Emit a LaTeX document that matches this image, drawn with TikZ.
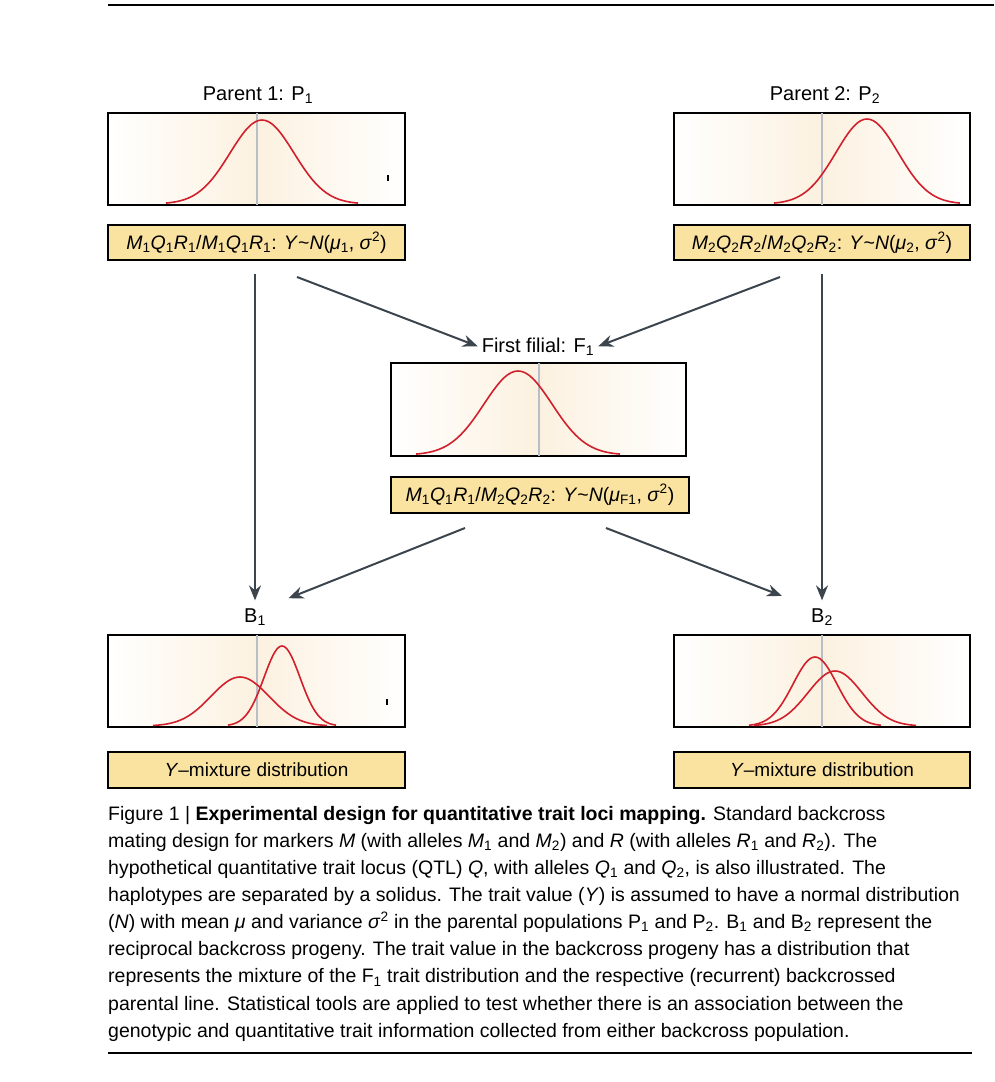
\documentclass[tikz,border=0pt]{standalone}
\usepackage{fontspec}
\setmainfont{Liberation Sans}
\usetikzlibrary{arrows.meta}

\definecolor{curvered}{RGB}{208,32,44}
\definecolor{genofill}{RGB}{250,226,160}
\definecolor{plotbeige}{RGB}{252,241,224}
\definecolor{midgray}{RGB}{182,190,200}
\definecolor{arrowgray}{RGB}{60,68,78}

\tikzset{
  plotbox/.style={draw=black, line width=2pt, left color=white, right color=white,
    middle color=plotbeige, minimum width=297pt, minimum height=92pt, inner sep=0pt},
  genobox/.style={draw=black, line width=2pt, fill=genofill, minimum width=297pt,
    minimum height=35pt, inner sep=0pt, font=\fontsize{19.5}{22}\selectfont},
  stagelabel/.style={font=\fontsize{20}{22}\selectfont, inner sep=2pt},
  centreline/.style={draw=midgray, line width=2pt, shorten <=1pt, shorten >=1pt},
  redcurve/.style={draw=curvered, line width=1.6pt, smooth, samples=61},
  crossarrow/.style={draw=arrowgray, line width=2pt, -{Stealth[length=15pt,width=12pt]}},
}

% normal curve: mean, sd, height, baseline
\newcommand{\normcurve}[4]{%
  \draw[redcurve] plot[domain={#1-3*#2}:{#1+3*#2}] (\x,{#4-#3*exp(-0.5*((\x-#1)/#2)^2)});}

\begin{document}
\begin{tikzpicture}[x=1pt, y=-1pt]
    \useasboundingbox (0,0) rectangle (994,1082);
    \draw[line width=2pt] (108,5) -- (994,5);

    % parents
    \node[stagelabel] (lp1) at (258,95) {Parent 1: P\textsubscript{1}};
    \node[plotbox] (p1) at (256.5,159) {};
    \draw[centreline] (p1.north) -- (p1.south);
    \normcurve{262}{32}{84}{204}
    \draw[line width=1.5pt] (388,175) -- (388,181);
    \node[genobox] (gp1) at (256.5,242.5) {\textit{M}\textsubscript{1}\textit{Q}\textsubscript{1}\textit{R}\textsubscript{1}/\textit{M}\textsubscript{1}\textit{Q}\textsubscript{1}\textit{R}\textsubscript{1}: \textit{Y}\textasciitilde\textit{N}(\textit{μ}\textsubscript{1}, \textit{σ}\textsuperscript{2})};

    \node[stagelabel] (lp2) at (825,95) {Parent 2: P\textsubscript{2}};
    \node[plotbox, minimum width=296pt] (p2) at (822,159) {};
    \draw[centreline] (p2.north) -- (p2.south);
    \normcurve{867}{31}{85}{204}
    \node[genobox, minimum width=296pt] (gp2) at (822,242.5) {\textit{M}\textsubscript{2}\textit{Q}\textsubscript{2}\textit{R}\textsubscript{2}/\textit{M}\textsubscript{2}\textit{Q}\textsubscript{2}\textit{R}\textsubscript{2}: \textit{Y}\textasciitilde\textit{N}(\textit{μ}\textsubscript{2}, \textit{σ}\textsuperscript{2})};

    % first filial
    \node[stagelabel] (lf1) at (538,347) {First filial: F\textsubscript{1}};
    \node[plotbox, minimum width=295pt, minimum height=93pt] (f1) at (538.5,409.5) {};
    \draw[centreline] (f1.north) -- (f1.south);
    \normcurve{518}{34}{84}{455}
    \node[genobox, minimum width=298pt, minimum height=36pt] (gf1) at (540,495) {\textit{M}\textsubscript{1}\textit{Q}\textsubscript{1}\textit{R}\textsubscript{1}/\textit{M}\textsubscript{2}\textit{Q}\textsubscript{2}\textit{R}\textsubscript{2}: \textit{Y}\textasciitilde\textit{N}(\textit{μ}\textsubscript{F1}, \textit{σ}\textsuperscript{2})};

    % backcrosses
    \node[stagelabel] (lb1) at (255,617) {B\textsubscript{1}};
    \node[plotbox] (b1) at (256.5,681) {};
    \draw[centreline] (b1.north) -- (b1.south);
    \normcurve{240}{29}{49}{726}
    \normcurve{282}{18}{80}{726}
    \draw[line width=1.5pt] (387,699) -- (387,705);
    \node[genobox, minimum height=36pt, font=\fontsize{19}{22}\selectfont] (mb1) at (256.5,770) {\textit{Y}–mixture distribution};

    \node[stagelabel] (lb2) at (822,617) {B\textsubscript{2}};
    \node[plotbox, minimum width=296pt] (b2) at (822,681) {};
    \draw[centreline] (b2.north) -- (b2.south);
    \normcurve{815}{22}{69}{726}
    \normcurve{835}{27}{55}{726}
    \node[genobox, minimum width=296pt, minimum height=36pt, font=\fontsize{19}{22}\selectfont] (mb2) at (822,770) {\textit{Y}–mixture distribution};

    % crosses
    \coordinate (p1out) at (297,277);
    \coordinate (p2out) at (780,277);
    \coordinate (f1left) at (465,528);
    \coordinate (f1right) at (606,528);
    \draw[crossarrow, shorten <=13pt, shorten >=6pt] (gp1.south -| lb1) -- (lb1.north);
    \draw[crossarrow, shorten <=13pt, shorten >=6pt] (gp2.south -| lb2) -- (lb2.north);
    \draw[crossarrow, shorten >=2pt] (p1out) -- (lf1.west);
    \draw[crossarrow, shorten >=2pt] (p2out) -- (lf1.east);
    \draw[crossarrow, shorten >=22pt] (f1left) -- (lb1.north east);
    \draw[crossarrow, shorten >=29pt] (f1right) -- (lb2.north west);

    % legend
    \node[anchor=north west, align=left, inner sep=0pt, font=\fontsize{19.5}{27.1}\selectfont] (caption) at (108,806) {%
      Figure 1 | \textbf{Experimental design for quantitative trait loci mapping.} Standard backcross\\
      mating design for markers \textit{M} (with alleles \textit{M}\textsubscript{1} and \textit{M}\textsubscript{2}) and \textit{R} (with alleles \textit{R}\textsubscript{1} and \textit{R}\textsubscript{2}). The\\
      hypothetical quantitative trait locus (QTL) \textit{Q}, with alleles \textit{Q}\textsubscript{1} and \textit{Q}\textsubscript{2}, is also illustrated. The\\
      haplotypes are separated by a solidus. The trait value (\textit{Y}) is assumed to have a normal distribution\\
      (\textit{N}) with mean \textit{μ} and variance \textit{σ}\textsuperscript{2} in the parental populations P\textsubscript{1} and P\textsubscript{2}. B\textsubscript{1} and B\textsubscript{2} represent the\\
      reciprocal backcross progeny. The trait value in the backcross progeny has a distribution that\\
      represents the mixture of the F\textsubscript{1} trait distribution and the respective (recurrent) backcrossed\\
      parental line. Statistical tools are applied to test whether there is an association between the\\
      genotypic and quantitative trait information collected from either backcross population.};
    \draw[line width=2.5pt] (108,1053) -- (972,1053);
\end{tikzpicture}
\end{document}
